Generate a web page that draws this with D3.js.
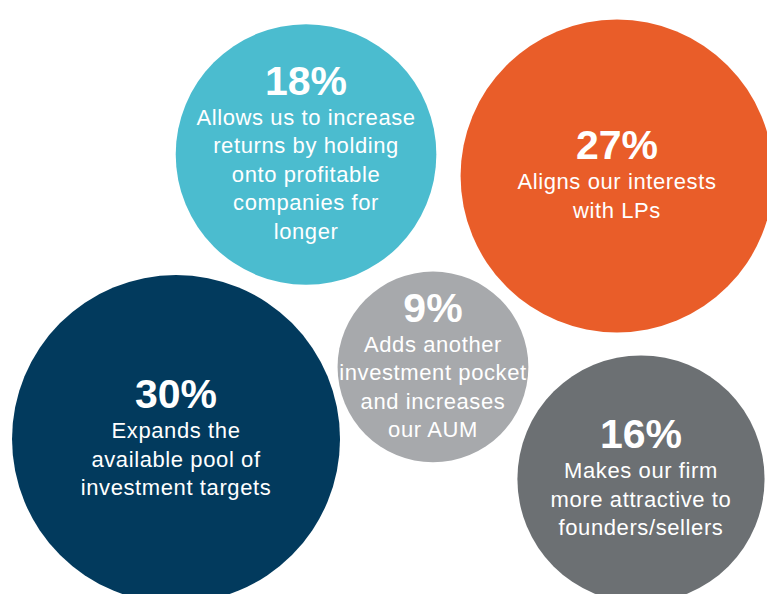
<!DOCTYPE html>
<meta charset="utf-8">

<script src="https://d3js.org/d3.v7.min.js"></script>

<style type="text/css">

body {
    margin: 0;
    background: #fff;
}

.bubble .pct {
    fill: #fff;
    font-family: "Liberation Sans", Arial, sans-serif;
    font-weight: bold;
    font-size: 41px;
    text-anchor: middle;
}

.bubble .desc {
    fill: #fff;
    font-family: "Liberation Sans", Arial, sans-serif;
    font-size: 22px;
    letter-spacing: 0.6px;
    text-anchor: middle;
}

</style>

<body>
</body>

<script>

// values
var shares = [18, 27, 9, 30, 16];

var descriptions = [
    ["Allows us to increase", "returns by holding", "onto profitable", "companies for", "longer"],
    ["Aligns our interests", "with LPs"],
    ["Adds another", "investment pocket", "and increases", "our AUM"],
    ["Expands the", "available pool of", "investment targets"],
    ["Makes our firm", "more attractive to", "founders/sellers"]
];

var colors = ["#4bbccf", "#e95d29", "#a7a9ac", "#023a5d", "#6c7073"];

// where each bubble sits, as a fraction of the canvas
var posX = [0.399, 0.8044, 0.5645, 0.2295, 0.8357];
var posY = [0.2601, 0.2963, 0.6178, 0.7391, 0.8064];

var width = 767,
    height = 594;

var data = shares.map(function(d, i) {
    return {value: d, lines: descriptions[i], color: colors[i], px: posX[i], py: posY[i]};
});

var svg = d3.select("body").append("svg")
    .attr("width", width)
    .attr("height", height);

var xScale = d3.scaleLinear().domain([0, 1]).range([0, width]);
var yScale = d3.scaleLinear().domain([0, 1]).range([0, height]);

var rScale = d3.scalePow()
    .exponent(0.45)
    .domain([0, d3.max(shares)])
    .range([0, 164]);

var titleGap = 30,
    lineHeight = 28.5,
    capHeight = 29;

var bubble = svg.selectAll('.bubble')
    .data(data)
    .enter()
    .append('g')
    .attr('class', 'bubble')
    .attr('transform', function(d) { return 'translate(' + xScale(d.px) + ',' + yScale(d.py) + ')'; });

bubble.append('circle')
    .attr('r', function(d) { return rScale(d.value); })
    .style('fill', function(d) { return d.color; });

// title baseline so the whole text block is roughly centred
function titleY(d) {
    var blockH = capHeight + titleGap + lineHeight * (d.lines.length - 1);
    return -blockH / 2 + capHeight - 2;
}

bubble.append('text')
    .attr('class', 'pct')
    .attr('y', titleY)
    .text(function(d) { return d.value + '%'; });

bubble.each(function(d) {
    var t0 = titleY(d);
    d3.select(this).selectAll('.desc')
        .data(d.lines)
        .enter()
        .append('text')
        .attr('class', 'desc')
        .attr('y', function(l, i) { return t0 + titleGap + i * lineHeight; })
        .text(function(l) { return l; });
});

</script>
